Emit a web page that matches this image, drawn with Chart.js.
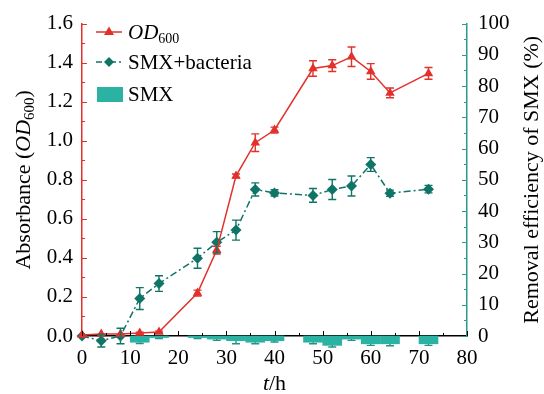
<!DOCTYPE html>
<html>
<head>
<meta charset="utf-8">
<script src="https://cdn.jsdelivr.net/npm/chart.js@4.4.0/dist/chart.umd.min.js"></script>
<style>
  html, body { margin: 0; padding: 0; background: #fff; }
  #wrap { width: 544px; height: 394px; }
</style>
</head>
<body>
<div id="wrap"><canvas id="chart" width="544" height="394"></canvas></div>
<script>
// sampling times (h)
var hours = [0, 4, 8, 12, 16, 24, 28, 32, 36, 40, 48, 52, 56, 60, 64, 72];
// OD600 and its error
var od600 = [0.005, 0.01, 0.01, 0.015, 0.02, 0.22, 0.44, 0.82, 0.99, 1.055, 1.37, 1.385, 1.43, 1.355, 1.245, 1.345];
var od600Err = [0, 0, 0, 0.005, 0.005, 0.015, 0.02, 0.01, 0.045, 0.015, 0.04, 0.03, 0.05, 0.04, 0.025, 0.03];
// removal efficiency with bacteria (%)
var smxBacteria = [0, -1.5, 0, 12, 16.8, 24.9, 30, 33.9, 46.9, 45.8, 45, 46.9, 48, 54.9, 45.7, 47];
var smxBacteriaErr = [0, 2, 2.5, 3.5, 2.5, 3.2, 3.4, 3.2, 2.1, 1, 2.2, 3.2, 3.2, 2.2, 1, 1.2];
// SMX only control (%)
var smxHours = [12, 16, 24, 28, 32, 36, 40, 48, 52, 56, 60, 64, 72];
var smxOnly = [-2, -0.5, -0.5, -1, -1.5, -2, -1.5, -2, -3, -1, -2.5, -2.5, -2.5];
var smxOnlyErr = [0.4, 0.3, 0.3, 0.4, 1, 0.5, 0.4, 0.5, 0.5, 0.4, 0.5, 0.6, 0.5];

var leftTicks = [0, 0.2, 0.4, 0.6, 0.8, 1.0, 1.2, 1.4, 1.6];
var rightTicks = [0, 10, 20, 30, 40, 50, 60, 70, 80, 90, 100];
var xTicks = [0, 10, 20, 30, 40, 50, 60, 70, 80];

var RED = "#e2312b";
var TEAL = "#0f7566";
var BAR = "#2cb2a2";
var AXIS_TEAL = "#2a9a8c";
var FONT = "'Liberation Serif', 'Times New Roman', serif";

function toXY(xs, ys) {
  return xs.map(function(x, i) { return { x: x, y: ys[i] }; });
}

// error bars, inward ticks, legend and axis titles
var decorPlugin = {
  id: "decor",
  afterDatasetsDraw: function(chart) {
    var ctx = chart.ctx;
    chart.data.datasets.forEach(function(ds) {
      if (!ds.errors) return;
      var xs = chart.scales.x, ys = chart.scales[ds.yAxisID];
      ctx.save();
      ctx.strokeStyle = ds.errColor;
      ctx.lineWidth = 1.4;
      ds.data.forEach(function(p, i) {
        var e = ds.errors[i];
        if (!e) return;
        var px = xs.getPixelForValue(p.x);
        var y1 = ys.getPixelForValue(p.y + e), y2 = ys.getPixelForValue(p.y - e);
        if (ds.type === "bar") y1 = ys.getPixelForValue(p.y);
        ctx.beginPath();
        ctx.moveTo(px, y1); ctx.lineTo(px, y2);
        if (ds.type !== "bar") { ctx.moveTo(px - 4, y1); ctx.lineTo(px + 4, y1); }
        ctx.moveTo(px - 4, y2); ctx.lineTo(px + 4, y2);
        ctx.stroke();
      });
      ctx.restore();
    });
  },
  afterDraw: function(chart) {
    var ctx = chart.ctx, a = chart.chartArea;
    var xs = chart.scales.x, yl = chart.scales.y, yr = chart.scales.y1;
    ctx.save();
    ctx.lineWidth = 1;
    // left ticks (red, inward)
    ctx.strokeStyle = RED;
    for (var v = 0; v <= 16; v++) {
      var py = Math.round(yl.getPixelForValue(v / 10)) + 0.5;
      ctx.beginPath(); ctx.moveTo(a.left, py); ctx.lineTo(a.left + (v % 2 ? 3 : 5), py); ctx.stroke();
    }
    // right ticks (teal, inward)
    ctx.strokeStyle = AXIS_TEAL;
    for (var r = 0; r <= 100; r += 5) {
      var ry = Math.round(yr.getPixelForValue(r)) + 0.5;
      ctx.beginPath(); ctx.moveTo(a.right, ry); ctx.lineTo(a.right - (r % 10 ? 3 : 5), ry); ctx.stroke();
    }
    // bottom ticks (black, inward)
    ctx.strokeStyle = "#000";
    for (var t = 0; t <= 80; t += 5) {
      var tx = Math.round(xs.getPixelForValue(t)) + 0.5;
      ctx.beginPath(); ctx.moveTo(tx, a.bottom); ctx.lineTo(tx, a.bottom - (t % 10 ? 3 : 5)); ctx.stroke();
    }

    // legend
    ctx.fillStyle = "#000";
    ctx.textBaseline = "alphabetic";
    ctx.textAlign = "left";
    // OD600 row
    ctx.strokeStyle = RED; ctx.lineWidth = 1.5;
    ctx.beginPath(); ctx.moveTo(96, 32); ctx.lineTo(122, 32); ctx.stroke();
    ctx.fillStyle = RED;
    ctx.beginPath(); ctx.moveTo(109, 26.5); ctx.lineTo(114, 35); ctx.lineTo(104, 35); ctx.closePath(); ctx.fill();
    ctx.fillStyle = "#000";
    ctx.font = "italic 21px " + FONT;
    ctx.fillText("OD", 128, 39);
    var w = ctx.measureText("OD").width;
    ctx.font = "14px " + FONT;
    ctx.fillText("600", 128 + w, 43);
    // SMX+bacteria row
    ctx.strokeStyle = TEAL;
    ctx.setLineDash([6, 3, 2, 3]);
    ctx.beginPath(); ctx.moveTo(96, 62); ctx.lineTo(122, 62); ctx.stroke();
    ctx.setLineDash([]);
    ctx.fillStyle = TEAL;
    ctx.beginPath(); ctx.moveTo(109, 57); ctx.lineTo(114, 62); ctx.lineTo(109, 67); ctx.lineTo(104, 62); ctx.closePath(); ctx.fill();
    ctx.fillStyle = "#000";
    ctx.font = "21px " + FONT;
    ctx.fillText("SMX+bacteria", 128, 69);
    // SMX row
    ctx.fillStyle = BAR;
    ctx.fillRect(97, 87, 26, 15);
    ctx.fillStyle = "#000";
    ctx.fillText("SMX", 128, 101);

    // x title
    ctx.font = "italic 22px " + FONT;
    var tw = ctx.measureText("t").width;
    ctx.font = "22px " + FONT;
    var hw = ctx.measureText("/h").width;
    var x0 = (a.left + a.right) / 2 - (tw + hw) / 2;
    ctx.font = "italic 22px " + FONT;
    ctx.fillText("t", x0, 390);
    ctx.font = "22px " + FONT;
    ctx.fillText("/h", x0 + tw, 390);

    // left title
    var cy = (a.top + a.bottom) / 2;
    ctx.save();
    ctx.translate(30, cy);
    ctx.rotate(-Math.PI / 2);
    ctx.font = "22px " + FONT;
    var p1 = "Absorbance (", p1w = ctx.measureText(p1).width;
    ctx.font = "italic 22px " + FONT;
    var p2w = ctx.measureText("OD").width;
    ctx.font = "15px " + FONT;
    var p3w = ctx.measureText("600").width;
    ctx.font = "22px " + FONT;
    var p4w = ctx.measureText(")").width;
    var sx = -(p1w + p2w + p3w + p4w) / 2;
    ctx.fillText(p1, sx, 0);
    ctx.font = "italic 22px " + FONT;
    ctx.fillText("OD", sx + p1w, 0);
    ctx.font = "15px " + FONT;
    ctx.fillText("600", sx + p1w + p2w, 4);
    ctx.font = "22px " + FONT;
    ctx.fillText(")", sx + p1w + p2w + p3w, 0);
    ctx.restore();

    // right title
    ctx.save();
    ctx.translate(538, cy);
    ctx.rotate(-Math.PI / 2);
    ctx.font = "22px " + FONT;
    ctx.textAlign = "center";
    ctx.fillText("Removal efficiency of SMX (%)", 0, 0);
    ctx.restore();

    ctx.restore();
  }
};

var ctx = document.getElementById("chart").getContext("2d");
new Chart(ctx, {
  type: "line",
  data: {
    datasets: [
      {
        type: "line",
        label: "OD600",
        data: toXY(hours, od600),
        errors: od600Err,
        errColor: RED,
        yAxisID: "y",
        borderColor: RED,
        backgroundColor: RED,
        borderWidth: 1.5,
        pointStyle: "triangle",
        pointRadius: 5.5,
        pointBorderWidth: 0,
        tension: 0,
        clip: false,
        order: 1
      },
      {
        type: "line",
        label: "SMX+bacteria",
        data: toXY(hours, smxBacteria),
        errors: smxBacteriaErr,
        errColor: TEAL,
        yAxisID: "y1",
        borderColor: TEAL,
        backgroundColor: TEAL,
        borderWidth: 1.5,
        borderDash: [7, 3, 2, 3],
        pointStyle: "rectRot",
        pointRadius: 5.5,
        pointBorderWidth: 0,
        tension: 0,
        clip: false,
        order: 2
      },
      {
        type: "bar",
        label: "SMX",
        data: toXY(smxHours, smxOnly),
        errors: smxOnlyErr,
        errColor: "#1f9585",
        yAxisID: "y1",
        backgroundColor: BAR,
        borderWidth: 0,
        barThickness: 19,
        clip: false,
        order: 3
      }
    ]
  },
  options: {
    responsive: false,
    animation: false,
    layout: { padding: { top: 19, left: 0, right: 0, bottom: 0 } },
    plugins: { legend: { display: false }, tooltip: { enabled: false } },
    scales: {
      x: {
        type: "linear",
        offset: false,
        min: 0, max: 80,
        afterFit: function(s) { s.height = 58; },
        afterBuildTicks: function(s) { s.ticks = xTicks.map(function(v) { return { value: v }; }); },
        grid: { display: false, drawTicks: false, offset: false },
        border: { display: true, color: "#000", width: 1.5 },
        ticks: { color: "#000", font: { family: FONT, size: 21 }, padding: 10, maxRotation: 0 }
      },
      y: {
        position: "left",
        min: 0, max: 1.6,
        afterFit: function(s) { s.width = 82; },
        afterBuildTicks: function(s) { s.ticks = leftTicks.map(function(v) { return { value: v }; }); },
        grid: { display: false, drawTicks: false },
        border: { display: true, color: RED, width: 1.5 },
        ticks: { color: "#000", font: { family: FONT, size: 21 }, padding: 9,
          callback: function(v) { return v.toFixed(1); } }
      },
      y1: {
        position: "right",
        min: 0, max: 100,
        afterFit: function(s) { s.width = 77; },
        afterBuildTicks: function(s) { s.ticks = rightTicks.map(function(v) { return { value: v }; }); },
        grid: { display: false, drawTicks: false },
        border: { display: true, color: AXIS_TEAL, width: 1.5 },
        ticks: { color: "#000", font: { family: FONT, size: 21 }, padding: 11 }
      }
    }
  },
  plugins: [decorPlugin]
});
</script>
</body>
</html>
